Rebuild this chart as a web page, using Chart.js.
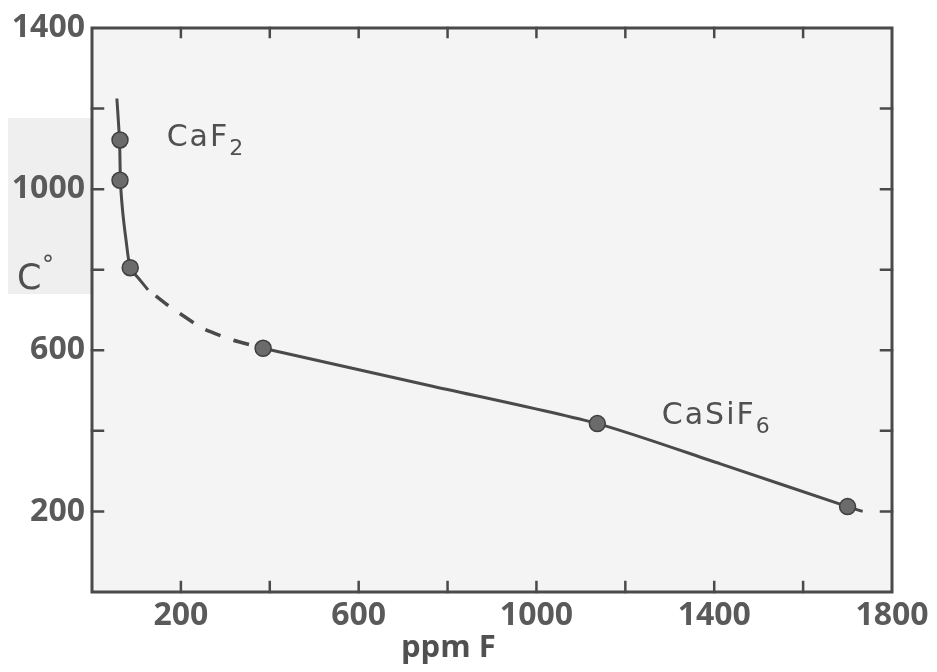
<!DOCTYPE html>
<html>
<head>
<meta charset="utf-8">
<script src="https://cdn.jsdelivr.net/npm/chart.js@4.4.1/dist/chart.umd.min.js"></script>
<style>
  html, body { margin: 0; padding: 0; background: #ffffff; }
  #wrap { width: 937px; height: 672px; position: relative; }
</style>
</head>
<body>
<div id="wrap"><canvas id="chart" width="937" height="672"></canvas></div>
<script>
// measured points (ppm F, °C)
const pointX = [63, 63, 86, 385, 1137, 1700];
const pointY = [1122, 1022, 805, 605, 418, 212];

// CaF2 branch, solid
const cafX = [56, 62, 64, 69, 77, 86, 106, 126];
const cafY = [1225, 1120, 1020, 945, 870, 805, 777, 750];

// extrapolated link, dashed
const dashX = [126, 169, 248, 318, 385];
const dashY = [750, 713, 655, 625, 605];

// CaSiF6 branch, solid
const casX = [385, 761, 1137, 1414, 1700, 1734];
const casY = [605, 512, 418, 318, 212, 200];

const xTickLabels = [200, 600, 1000, 1400, 1800];
const yTickLabels = [200, 600, 1000, 1400];

const INK = '#4a4a4a';
const zip = (xs, ys) => xs.map((x, i) => ({ x, y: ys[i] }));

const decor = {
    id: 'decor',
    beforeDraw(chart) {
        const { ctx, chartArea: a } = chart;
        ctx.save();
        // faint grey patch behind the left labels
        ctx.fillStyle = '#efefef';
        ctx.fillRect(8, 118, a.left - 8, 176);
        // paper tone of the plot
        ctx.fillStyle = '#f4f4f4';
        ctx.fillRect(a.left, a.top, a.right - a.left, a.bottom - a.top);
        ctx.restore();
    },
    afterDraw(chart) {
        const { ctx, chartArea: a, scales: { x, y } } = chart;
        ctx.save();
        ctx.strokeStyle = INK;
        ctx.lineCap = 'square';
        // frame
        ctx.lineWidth = 3;
        ctx.strokeRect(a.left, a.top, a.right - a.left, a.bottom - a.top);
        // inward ticks
        ctx.lineWidth = 2.5;
        ctx.beginPath();
        for (let v = 200; v < 1800; v += 200) {
            const px = x.getPixelForValue(v);
            ctx.moveTo(px, a.top); ctx.lineTo(px, a.top + 9);
            ctx.moveTo(px, a.bottom); ctx.lineTo(px, a.bottom - 10);
        }
        for (let v = 200; v < 1400; v += 200) {
            const py = y.getPixelForValue(v);
            ctx.moveTo(a.left, py); ctx.lineTo(a.left + 11, py);
            ctx.moveTo(a.right, py); ctx.lineTo(a.right - 11, py);
        }
        ctx.stroke();

        ctx.fillStyle = '#505050';
        ctx.textBaseline = 'alphabetic';
        ctx.textAlign = 'left';
        // C° at the 800 mark
        const y800 = y.getPixelForValue(800);
        ctx.font = '35px "DejaVu Sans"';
        ctx.fillText('C', 17, y800 + 19);
        ctx.font = '24px "DejaVu Sans"';
        ctx.fillText('°', 42, y800 + 3);

        // series labels with subscripts
        const label = (main, sub, vx, vy) => {
            const px = x.getPixelForValue(vx), py = y.getPixelForValue(vy);
            ctx.font = '30px "DejaVu Sans"';
            ctx.letterSpacing = '2px';
            ctx.fillText(main, px, py);
            const w = ctx.measureText(main).width;
            ctx.font = '22px "DejaVu Sans"';
            ctx.letterSpacing = '0px';
            ctx.fillText(sub, px + w, py + 9);
        };
        label('CaF', '2', 168, 1108);
        label('CaSiF', '6', 1282, 416);

        // x-axis title
        ctx.font = 'bold 31px "Open Sans"';
        ctx.letterSpacing = '0px';
        ctx.fillText('ppm F', 401, 657);
        ctx.restore();
    }
};

new Chart(document.getElementById('chart'), {
    type: 'line',
    data: {
        datasets: [
            {
                label: 'CaF2',
                data: zip(cafX, cafY),
                borderColor: INK,
                borderWidth: 3,
                pointRadius: 0,
                tension: 0.2,
                order: 2
            },
            {
                label: 'extrapolated',
                data: zip(dashX, dashY),
                borderColor: INK,
                borderWidth: 3.5,
                borderDash: [16, 14],
                borderDashOffset: 20,
                pointRadius: 0,
                tension: 0.15,
                order: 2
            },
            {
                label: 'CaSiF6',
                data: zip(casX, casY),
                borderColor: INK,
                borderWidth: 3,
                pointRadius: 0,
                tension: 0.25,
                order: 2
            },
            {
                label: 'measured',
                data: zip(pointX, pointY),
                showLine: false,
                pointRadius: 8,
                pointBackgroundColor: '#6b6b6b',
                pointBorderColor: '#3f3f3f',
                pointBorderWidth: 1.5,
                order: 1
            }
        ]
    },
    options: {
        responsive: false,
        animation: false,
        layout: { padding: { top: 28, right: 45, left: 0, bottom: 0 } },
        plugins: {
            legend: { display: false },
            tooltip: { enabled: false }
        },
        scales: {
            x: {
                type: 'linear',
                min: 0,
                max: 1800,
                grid: { display: false, drawTicks: false },
                border: { display: false },
                afterFit: (s) => { s.height = 80; },
                ticks: {
                    stepSize: 200,
                    autoSkip: false,
                    maxRotation: 0,
                    padding: 5,
                    color: '#5a5a5a',
                    font: { family: 'Open Sans', weight: 'bold', size: 32 },
                    callback: (v) => xTickLabels.includes(v) ? String(v) : ''
                }
            },
            y: {
                type: 'linear',
                min: 0,
                max: 1400,
                grid: { display: false, drawTicks: false },
                border: { display: false },
                afterFit: (s) => { s.width = 92; },
                ticks: {
                    stepSize: 200,
                    autoSkip: false,
                    padding: 7,
                    color: '#5a5a5a',
                    font: { family: 'Open Sans', weight: 'bold', size: 32 },
                    callback: (v) => yTickLabels.includes(v) ? String(v) : ''
                }
            }
        }
    },
    plugins: [decor]
});
</script>
</body>
</html>
